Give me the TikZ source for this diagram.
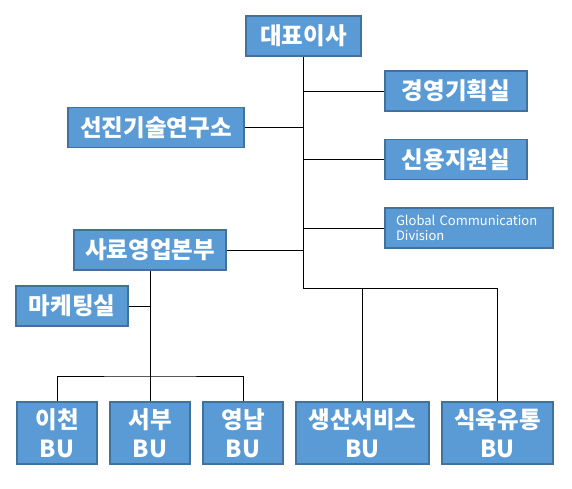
\documentclass[tikz,border=0pt]{standalone}
\usepackage{fontspec}
\setmainfont{Noto Sans CJK KR}
\usepackage{tikz}
\definecolor{boxfill}{HTML}{5B9BD5}
\definecolor{boxline}{HTML}{41719C}
\tikzset{
  unit/.style={draw=boxline, fill=boxfill, line width=1.5pt, text=white,
    font=\fontsize{23.5}{29}\selectfont\bfseries, align=center, inner sep=0pt,
    minimum height=40pt},
  bu/.style={unit, minimum height=62pt},
  wire/.style={line width=0.9pt, black}
}
\begin{document}
\begin{tikzpicture}[x=1pt, y=-1pt]
	\useasboundingbox (0, 0) rectangle (572, 488);
	% Boxes:
	\node[unit, minimum width=115pt] (ceo) at (303.5, 36){대표이사};
	\node[unit, minimum width=142pt] (plan) at (456, 91){경영기획실};
	\node[unit, minimum width=142pt] (credit) at (456, 159.5){신용지원실};
	\node[unit, minimum width=168pt, minimum height=40pt, text width=146pt, align=left, inner xsep=11pt,
		font=\fontsize{13}{15.5}\selectfont] (global) at (469, 228){Global Communication\\Division};
	\node[unit, minimum width=176pt] (tech) at (156, 127.5){선진기술연구소};
	\node[unit, minimum width=152pt] (sales) at (150, 250){사료영업본부};
	\node[unit, minimum width=112pt] (mkt) at (72, 306){마케팅실};
	\node[bu, minimum width=80pt] (icheon) at (57, 433){이천\\BU};
	\node[bu, minimum width=80pt] (seobu) at (150, 433){서부\\BU};
	\node[bu, minimum width=80pt] (yeongnam) at (243, 433){영남\\BU};
	\node[bu, minimum width=133pt] (prod) at (362.5, 433){생산서비스\\BU};
	\node[bu, minimum width=111pt] (meat) at (497.5, 433){식육유통\\BU};
	% Wires:
	\coordinate (trunk) at (303.5, 288);
	\coordinate (bus) at (150, 376);
	\draw[wire] (ceo.south) -- (trunk) -| (meat.north);
	\draw[wire] (prod.north) |- (trunk);
	\draw[wire] (plan.west) -- (plan.west -| ceo.south);
	\draw[wire] (credit.west) -- (credit.west -| ceo.south);
	\draw[wire] (global.west) -- (global.west -| ceo.south);
	\draw[wire] (tech.east) -- (tech.east -| ceo.south);
	\draw[wire] (sales.east) -- (sales.east -| ceo.south);
	\draw[wire] (sales.south) -- (seobu.north);
	\draw[wire] (mkt.east) -- (mkt.east -| sales.south);
	\draw[wire] (icheon.north) |- (bus) -| (yeongnam.north);
\end{tikzpicture}
\end{document}
